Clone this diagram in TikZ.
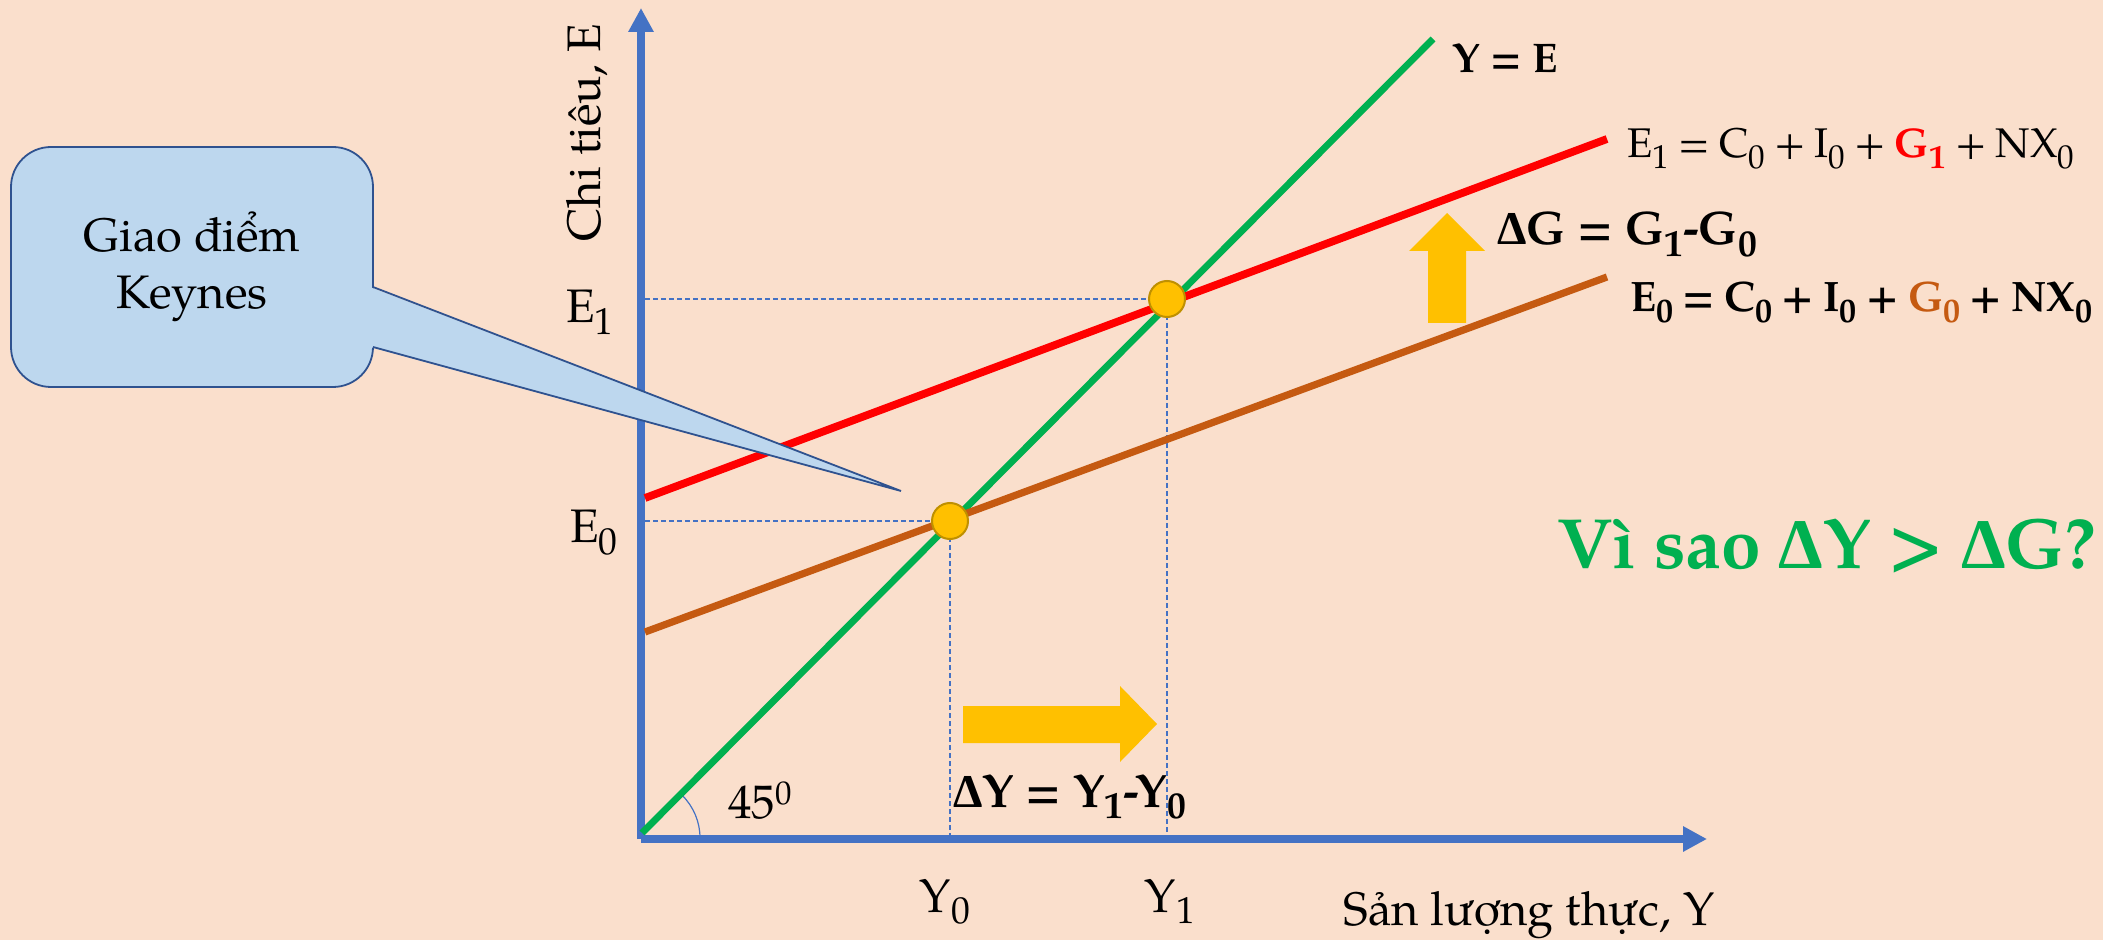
\documentclass[tikz,border=0pt]{standalone}
\usepackage{fontspec}
\setmainfont{texgyrepagella}[Extension=.otf, UprightFont=*-regular, BoldFont=*-bold, ItalicFont=*-italic, BoldItalicFont=*-bolditalic]
\newfontfamily\dfont{Liberation Serif}
\usetikzlibrary{arrows.meta}
\definecolor{bgc}{RGB}{250,223,204}
\definecolor{axisblue}{RGB}{68,114,196}
\definecolor{lgreen}{RGB}{0,176,80}
\definecolor{lred}{RGB}{255,0,0}
\definecolor{lorange}{RGB}{197,90,17}
\definecolor{gold}{RGB}{255,192,0}
\definecolor{goldedge}{RGB}{191,144,0}
\definecolor{callfill}{RGB}{189,215,238}
\definecolor{calledge}{RGB}{47,82,143}
\newcommand\mysub[1]{\raisebox{-0.25em}{\scalebox{0.8}{#1}}}
\newcommand\mysup[1]{\raisebox{0.28em}{\scalebox{0.7}{#1}}}
\newcommand\myspc{\hspace{0.22em}}
\newcommand\Dl{{\dfont Δ}}
\begin{document}
\begin{tikzpicture}[x=0.5pt,y=-0.5pt,
  axis/.style={draw=axisblue, line width=4pt, -{Triangle[length=12pt,width=12pt]}},
  dsh/.style={draw=axisblue, line width=0.6pt, dash pattern=on 2.5pt off 1.5pt},
  dot/.style={circle, fill=gold, draw=goldedge, line width=1pt, minimum size=18pt, inner sep=0pt},
  lbl/.style={inner sep=0pt, font=\fontsize{23.5}{28}\selectfont},
  blbl/.style={inner sep=0pt, font=\fontsize{23.5}{28}\selectfont\bfseries},
  vlbl/.style={inner sep=0pt, text=lgreen, font=\fontsize{37}{44}\selectfont\bfseries},
  callout/.style={draw=calledge, fill=callfill, line width=0.9pt, rounded corners=20pt,
     minimum width=181pt, minimum height=120pt, align=center,
     font=\fontsize{23.5}{28.5}\selectfont},
  blockarrow/.style={fill=gold}]
\fill[bgc] (0,0) rectangle (2103,940);
\useasboundingbox (0,0) rectangle (2103,940);
% key coordinates
\coordinate (O) at (641,839);
\coordinate (Ytop) at (641,8);
\coordinate (Xend) at (1707,839);
\coordinate (P1c) at (1167,299);
\coordinate (P0c) at (950,521);
\coordinate (E1ax) at (645,299);
\coordinate (E0ax) at (645,521);
\coordinate (G0) at (642,833);
\coordinate (G1) at (1433,39);
\coordinate (R0) at (645,498);
\coordinate (R1) at (1607,139);
\coordinate (B0) at (645,632);
\coordinate (B1) at (1607,277);
% dashed guides
\draw[dsh] (E1ax) -- (P1c);
\draw[dsh] (E0ax) -- (P0c);
\draw[dsh] (P1c) -- (P1c |- O);
\draw[dsh] (P0c) -- (P0c |- O);
% axes
\draw[axis] (O) -- (Ytop);
\draw[axis] (O) -- (Xend);
% angle mark
\draw[axisblue, line width=0.6pt] (700,838) arc[start angle=0, end angle=-45, radius=60];
% lines
\draw[lgreen, line width=3.4pt] (G0) -- (G1);
\draw[lorange, line width=3.6pt] (B0) -- (B1);
\draw[lred, line width=3.9pt] (R0) -- (R1);
% equilibrium points
\node[dot] (P1) at (P1c) {};
\node[dot] (P0) at (P0c) {};
% block arrows
\fill[blockarrow] (1428,323) -- (1428,251) -- (1409,251) -- (1447,213) -- (1485,251) -- (1466,251) -- (1466,323) -- cycle;
\fill[blockarrow] (963,706) -- (1120,706) -- (1120,686) -- (1157,724) -- (1120,762) -- (1120,743) -- (963,743) -- cycle;
% labels
\node[blbl, anchor=base west] (YE) at (1452,73) {\resizebox{52.5pt}{!}{Y = E}};
\node[lbl, anchor=base west] (E1eq) at (1627,158) {\resizebox{223.5pt}{!}{E\mysub{1}\myspc=\myspc C\mysub{0}\myspc+\myspc I\mysub{0}\myspc+\myspc\textcolor{lred}{\bfseries G\mysub{1}}\myspc+\myspc NX\mysub{0}}};
\node[blbl, anchor=base west] (DG) at (1497,245) {\Dl G = G\mysub{1}-G\mysub{0}};
\node[blbl, anchor=base west] (E0eq) at (1630,312) {\resizebox{231pt}{!}{E\mysub{0}\myspc=\myspc C\mysub{0}\myspc+\myspc I\mysub{0}\myspc+\myspc\textcolor{lorange}{G\mysub{0}}\myspc+\myspc NX\mysub{0}}};
\node[blbl, anchor=base west] (DY) at (953,807) {\Dl Y = Y\mysub{1}-Y\mysub{0}};
\node[lbl, anchor=base west] (ang) at (728,818) {45\mysup{0}};
\node[vlbl, anchor=base west] (Q) at (1557,568) {\resizebox{269.5pt}{!}{Vì sao \Dl Y > \Dl G?}};
\node[lbl, anchor=base] (E1l) at (590,323) {E\mysub{1}};
\node[lbl, anchor=base] (E0l) at (594,543) {E\mysub{0}};
\node[lbl, anchor=base] (Y0l) at (945,912) {Y\mysub{0}};
\node[lbl, anchor=base] (Y1l) at (1170,912) {Y\mysub{1}};
\node[lbl, anchor=base west] (XL) at (1343,925) {Sản lượng thực, Y};
\node[lbl, anchor=base west, rotate=90] (YL) at (600,242) {Chi tiêu, E};
% callout
\coordinate (Tip) at (901,491);
\coordinate (Ta) at (373,287);
\coordinate (Tb) at (373,347);
\coordinate (Tai) at (370,287);
\coordinate (Tbi) at (370,347);
\node[callout] (CB) at (192,267) {Giao điểm\\Keynes};
\fill[callfill] (Tai) -- (Tip) -- (Tbi) -- cycle;
\draw[calledge, line width=0.9pt, line join=miter] (Ta) -- (Tip) -- (Tb);
\end{tikzpicture}
\end{document}
